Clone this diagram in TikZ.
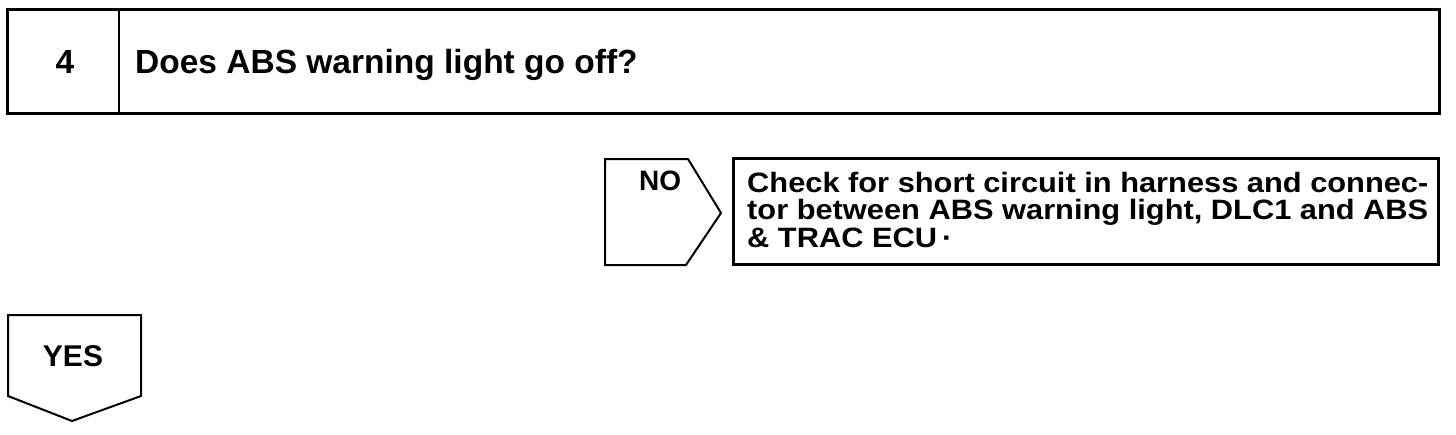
\documentclass[tikz,border=0pt]{standalone}
\usepackage{fontspec}
\usepackage{graphicx}
\setmainfont{Liberation Sans}
\newcommand{\widen}[1]{\scalebox{1.1}[1]{#1}}
\begin{document}
\begin{tikzpicture}[x=1pt,y=-1pt,
  thickline/.style={line width=3pt,line join=miter},
  thinline/.style={line width=2pt,line join=miter},
  bigtxt/.style={inner sep=0pt,font=\fontsize{33.5}{33.5}\selectfont\bfseries},
  yestxt/.style={inner sep=0pt,font=\fontsize{30}{30}\selectfont\bfseries},
  midtxt/.style={inner sep=0pt,font=\fontsize{28}{28}\selectfont\bfseries},
]
\useasboundingbox (0,0) rectangle (1456,434);
% title box
\draw[thickline] (7,9) rectangle (1439,113);
\draw[thinline] (119,9) -- (119,113);
\node[bigtxt,anchor=base] (num) at (65,73) {4};
\node[bigtxt,anchor=base west] (title) at (135,73) {Does ABS warning light go off?};
% NO arrow box
\draw[thinline] (605,159) -- (688,159) -- (721,213) -- (686,265) -- (605,265) -- cycle;
\node[midtxt,anchor=base west] (no) at (639,190) {NO};
% result box
\draw[thickline] (733,158) rectangle (1438,264);
\node[midtxt,anchor=base west] (l1) at (747,192) {\widen{Check for short circuit in harness and connec-}};
\node[midtxt,anchor=base west] (l2) at (747,219) {\widen{tor between ABS warning light, DLC1 and ABS}};
\node[midtxt,anchor=base west] (l3) at (747,247) {\widen{\& TRAC ECU\,·}};
% YES arrow box
\draw[thinline] (8,315) -- (141,315) -- (141,396) -- (72,421) -- (8,396) -- cycle;
\node[yestxt,anchor=base] (yes) at (73,366) {YES};
\end{tikzpicture}
\end{document}
